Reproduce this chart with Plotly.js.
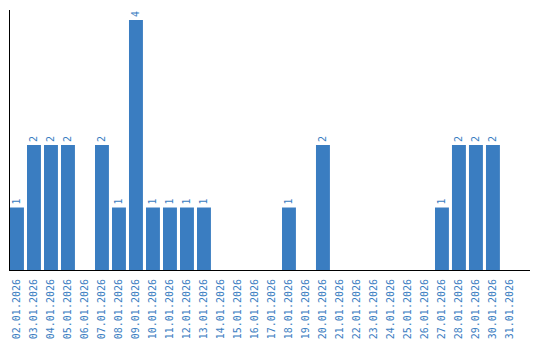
<!DOCTYPE html>
<html><head><meta charset="utf-8">
<script src="https://cdn.plot.ly/plotly-3.0.1.min.js"></script>
<style>html,body{margin:0;padding:0;background:#fff}#chart{width:540px;height:340px}</style>
</head><body><div id="chart"></div>
<script>
const dates = ["02.01.2026","03.01.2026","04.01.2026","05.01.2026","06.01.2026","07.01.2026","08.01.2026","09.01.2026","10.01.2026","11.01.2026","12.01.2026","13.01.2026","14.01.2026","15.01.2026","16.01.2026","17.01.2026","18.01.2026","19.01.2026","20.01.2026","21.01.2026","22.01.2026","23.01.2026","24.01.2026","25.01.2026","26.01.2026","27.01.2026","28.01.2026","29.01.2026","30.01.2026","31.01.2026"];
const counts = [1,2,2,2,0,2,1,4,1,1,1,1,0,0,0,0,1,0,2,0,0,0,0,0,0,1,2,2,2,0];
const blue = "#3a7dc1";
const trace = {
  type: "bar", x: dates, y: counts,
  marker: {color: blue},
  text: counts.map(v => v ? String(v) : ""),
  textposition: "outside", textangle: -90,
  textfont: {family: "DejaVu Sans Mono", size: 10, color: blue},
  cliponaxis: false, hoverinfo: "none"
};
const layout = {
  width: 540, height: 340,
  margin: {l: 10, r: 10, t: 10, b: 70},
  paper_bgcolor: "#fff", plot_bgcolor: "#fff",
  bargap: 0.18, showlegend: false,
  xaxis: {type: "category", range: [-0.41, 30.18], showline: true, linecolor: "#000", linewidth: 1,
    tickangle: -90, ticks: "outside", ticklen: 4, tickcolor: "rgba(0,0,0,0)",
    tickfont: {family: "DejaVu Sans Mono", size: 10, color: blue}, showgrid: false, zeroline: false},
  yaxis: {range: [0, 4.16], showline: true, linecolor: "#000", linewidth: 1, showticklabels: false,
    ticks: "", showgrid: false, zeroline: false}
};
Plotly.newPlot("chart", [trace], layout, {staticPlot: true, displayModeBar: false});
</script></body></html>
